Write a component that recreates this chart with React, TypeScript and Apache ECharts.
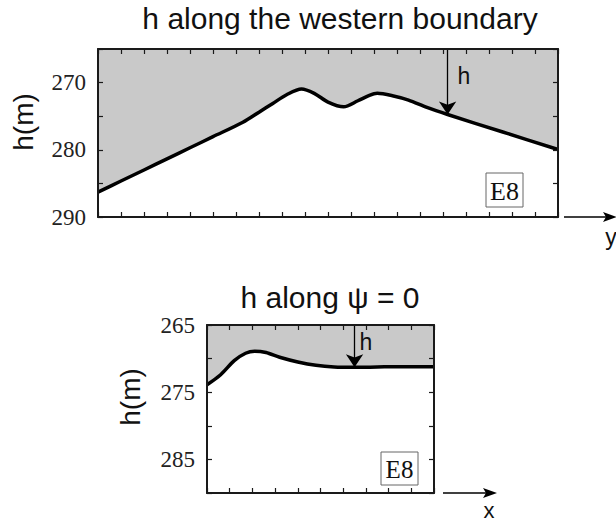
import React, { useEffect, useRef } from "react";
import * as echarts from "echarts";

// Top panel: h along the western boundary (x = along-boundary coordinate y, 0..20)
const westY = [0, 1, 2, 3, 4, 5, 6.3, 7, 7.6, 8.2, 8.85, 9.4, 10, 10.68, 11.3, 11.8, 12.14, 12.8, 13.5, 14.3, 15.2, 17.6, 20];
const westH = [286.3, 284.65, 283.0, 281.35, 279.7, 278.05, 275.9, 274.4, 273.1, 271.8, 270.95, 271.6, 272.9, 273.6, 272.7, 271.9, 271.6, 271.95, 272.6, 273.7, 274.75, 277.35, 279.95];
const westArrowIndex = 20;

// Bottom panel: h along psi = 0 (x 0..10)
const psiX = [0, 0.6, 1.2, 1.7, 2.1, 2.6, 3.2, 4.0, 4.8, 5.6, 6.5, 7.5, 8.5, 10];
const psiH = [273.9, 272.4, 270.3, 269.2, 268.9, 269.1, 269.8, 270.5, 271.0, 271.25, 271.3, 271.25, 271.2, 271.2];
const psiArrowIndex = 10;

const topTitle = "h along the western boundary";
const bottomTitle = "h along \u03c8 = 0";
const yName = "h(m)";
const boxLabel = "E8";

const SANS = "'Liberation Sans', Arial, sans-serif";
const SERIF = "'Liberation Serif', 'Times New Roman', serif";

export default function App() {
  const ref = useRef<HTMLDivElement>(null);
  useEffect(() => {
    if (!ref.current) return;
    const chart = echarts.init(ref.current, null, { renderer: "svg" });
    const frame = { show: true, onZero: false, lineStyle: { color: "#1a1a1a", width: 2 } };
    const tick = { show: true, inside: true, length: 5, lineStyle: { color: "#1a1a1a", width: 1.2 } };
    const xAx = (grid: number, max: number, position: string) => ({
      type: "value", gridIndex: grid, min: 0, max, interval: 1, position, z: 5,
      axisLine: frame, axisTick: tick, axisLabel: { show: false }, splitLine: { show: false },
    });
    const yAx = (grid: number, position: string, showLabels: boolean, fmt: (v: number) => string) => ({
      type: "value", gridIndex: grid, min: 265, max: 290, interval: 5, inverse: true, position, z: 5,
      axisLine: frame, axisTick: tick, splitLine: { show: false },
      axisLabel: { show: showLabels, formatter: fmt, fontFamily: SERIF, fontSize: 23, color: "#222", margin: 12 },
    });
    const topFmt = (v: number) => (v % 10 === 0 ? String(v) : "");
    const botFmt = (v: number) => ((v - 265) % 10 === 0 && v !== 290 ? String(v) : "");
    const arrowLine = (x: number, h: number) => ({
      silent: true,
      symbol: ["none", "arrow"],
      symbolSize: 13,
      label: { show: false },
      lineStyle: { color: "#000", width: 1.3, type: "solid" },
      itemStyle: { color: "#000" },
      data: [[{ coord: [x, 265] }, { coord: [x, h] }]],
    });
    const txt = (text: string, x: number, y: number, size: number, font: string, extra: any = {}) => ({
      type: "text", x, y, z: 10, ...extra,
      style: { text, fontSize: size, fontFamily: font, fill: "#111", textAlign: "center", textVerticalAlign: "middle", ...(extra.style || {}) },
    });
    const option: any = {
      animation: false,
      backgroundColor: "#fff",
      grid: [
        { left: 98, top: 49, width: 460, height: 168 },
        { left: 207, top: 325, width: 227, height: 168 },
      ],
      xAxis: [xAx(0, 20, "bottom"), xAx(0, 20, "top"), xAx(1, 10, "bottom"), xAx(1, 10, "top")],
      yAxis: [
        yAx(0, "left", true, topFmt), yAx(0, "right", false, topFmt),
        yAx(1, "left", true, botFmt), yAx(1, "right", false, botFmt),
      ],
      series: [
        {
          type: "line", xAxisIndex: 0, yAxisIndex: 0, smooth: 0.3, showSymbol: false, z: 3,
          data: westY.map((x, i) => [x, westH[i]]),
          lineStyle: { color: "#000", width: 3.5 },
          areaStyle: { color: "#c9c9c9", opacity: 1, origin: "start" },
          markLine: arrowLine(westY[westArrowIndex], westH[westArrowIndex]),
        },
        {
          type: "line", xAxisIndex: 2, yAxisIndex: 2, smooth: 0.3, showSymbol: false, z: 3,
          data: psiX.map((x, i) => [x, psiH[i]]),
          lineStyle: { color: "#000", width: 3.5 },
          areaStyle: { color: "#c9c9c9", opacity: 1, origin: "start" },
          markLine: arrowLine(psiX[psiArrowIndex], psiH[psiArrowIndex]),
        },
      ],
      graphic: [
        txt(topTitle, 340, 18, 30, SANS),
        txt(bottomTitle, 330, 297, 30, SANS),
        txt(yName, 23, 122, 28, SANS, { rotation: Math.PI / 2 }),
        txt(yName, 130, 397, 28, SANS, { rotation: Math.PI / 2 }),
        txt("h", 464, 76, 23, SANS),
        txt("h", 366, 342, 23, SANS),
        { type: "rect", z: 10, shape: { x: 486, y: 173, width: 37, height: 34 }, style: { fill: "#fff", stroke: "#666", lineWidth: 1 } },
        txt(boxLabel, 504.5, 191, 26, SERIF),
        { type: "rect", z: 10, shape: { x: 381, y: 452, width: 37, height: 33 }, style: { fill: "#fff", stroke: "#666", lineWidth: 1 } },
        txt(boxLabel, 399.5, 469, 25, SERIF),
        { type: "line", z: 10, shape: { x1: 564, y1: 217, x2: 608, y2: 217 }, style: { stroke: "#000", lineWidth: 1.5 } },
        { type: "polygon", z: 10, shape: { points: [[617, 217], [603, 212], [606, 217], [603, 222]] }, style: { fill: "#000" } },
        txt("y", 611, 237, 23, SANS),
        { type: "line", z: 10, shape: { x1: 443, y1: 493, x2: 488, y2: 493 }, style: { stroke: "#000", lineWidth: 1.5 } },
        { type: "polygon", z: 10, shape: { points: [[497, 493], [483, 488], [486, 493], [483, 498]] }, style: { fill: "#000" } },
        txt("x", 489, 510, 22, SANS),
      ],
    };
    chart.setOption(option);
    return () => chart.dispose();
  }, []);
  return <div ref={ref} style={{ position: "fixed", left: 0, top: 0, width: 616, height: 523 }} />;
}
